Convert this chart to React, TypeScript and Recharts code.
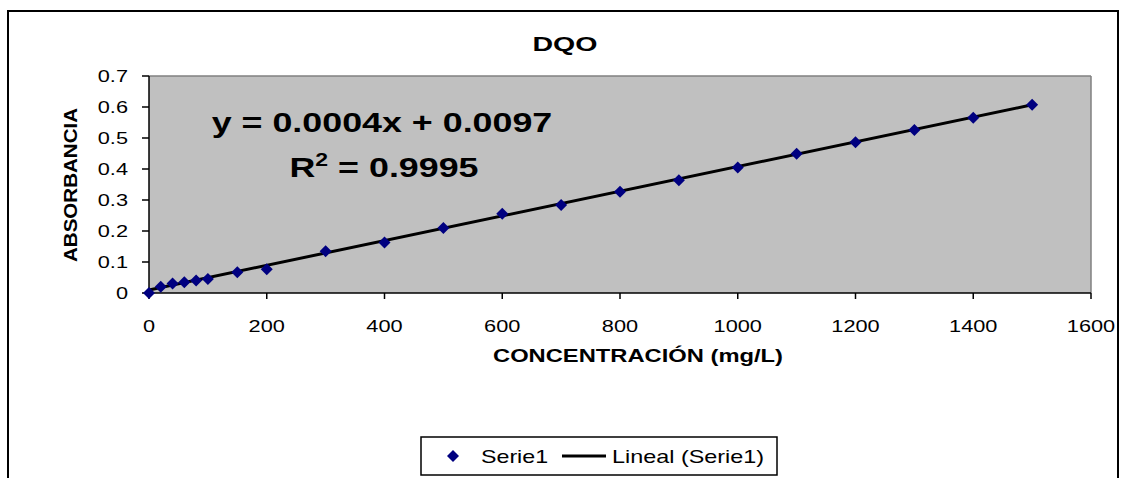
import React from 'react';
import {
  ComposedChart,
  Scatter,
  Line,
  XAxis,
  YAxis,
  CartesianGrid,
  ReferenceLine,
} from 'recharts';

// Serie1 (lectura del gráfico)
const concentracion = [0, 20, 40, 60, 80, 100, 150, 200, 300, 400, 500, 600, 700, 800, 900, 1000, 1100, 1200, 1300, 1400, 1500];
const absorbancia = [0, 0.02, 0.031, 0.035, 0.04, 0.045, 0.067, 0.077, 0.135, 0.163, 0.21, 0.256, 0.284, 0.327, 0.364, 0.405, 0.449, 0.486, 0.526, 0.565, 0.607];

// Lineal (Serie1): extremos de la recta de tendencia
const trendX = [0, 1500];
const trendY = [0.0097, 0.607];

const xTicks = [0, 200, 400, 600, 800, 1000, 1200, 1400, 1600];
const yTicks = [0, 0.1, 0.2, 0.3, 0.4, 0.5, 0.6, 0.7];

const FONT = '"Liberation Sans", Arial, sans-serif';
const NAVY = '#000080';

const serie1 = concentracion.map((x, i) => ({ x, y: absorbancia[i] }));
const lineal = trendX.map((x, i) => ({ x, y: trendY[i] }));

// texto ensanchado horizontalmente (el original está estirado)
function S({ x, y, sx = 1.28, anchor = 'middle', size = 17, bold = false, children }: any) {
  return (
    <text
      transform={`translate(${x},${y}) scale(${sx},1)`}
      textAnchor={anchor}
      fontFamily={FONT}
      fontSize={size}
      fontWeight={bold ? 'bold' : 'normal'}
      fill="#000"
    >
      {children}
    </text>
  );
}

const XTick = ({ x, y, payload }: any) => (
  <S x={x} y={y + 13}>{payload.value}</S>
);

const YTick = ({ x, y, payload }: any) => (
  <S x={x} y={y + 6} anchor="end">{payload.value}</S>
);

const Diamond = ({ cx, cy }: any) => {
  if (cx == null || cy == null) return null;
  return (
    <polygon
      points={`${cx},${cy - 6} ${cx + 6},${cy} ${cx},${cy + 6} ${cx - 6},${cy}`}
      fill={NAVY}
    />
  );
};

export default function App() {
  return (
    <div style={{ position: 'absolute', left: 0, top: 0, width: 1121, height: 478, background: '#fff', overflow: 'hidden' }}>
      <div style={{ position: 'absolute', left: 7, top: 10, width: 1108, height: 480, border: '2px solid #000' }} />
      <div style={{ position: 'absolute', left: 0, top: 0 }}>
        <ComposedChart
          width={1121}
          height={478}
          margin={{ top: 76, right: 30, bottom: 125, left: 0 }}
        >
          <CartesianGrid fill="#c0c0c0" horizontal={false} vertical={false} />
          <ReferenceLine y={0.7} stroke="#808080" strokeWidth={1.5} />
          <ReferenceLine x={1600} stroke="#808080" strokeWidth={1.5} />
          <XAxis
            type="number"
            dataKey="x"
            domain={[0, 1600]}
            ticks={xTicks}
            interval={0}
            height={60}
            tickSize={6}
            tickMargin={20}
            axisLine={{ stroke: '#000', strokeWidth: 1.5 }}
            tickLine={{ stroke: '#000', strokeWidth: 1.5 }}
            tick={<XTick />}
          />
          <YAxis
            type="number"
            dataKey="y"
            domain={[0, 0.7]}
            ticks={yTicks}
            interval={0}
            width={149}
            tickSize={7}
            tickMargin={14}
            axisLine={{ stroke: '#000', strokeWidth: 1.5 }}
            tickLine={{ stroke: '#000', strokeWidth: 1.5 }}
            tick={<YTick />}
          />
          <Scatter
            name="Serie1"
            data={serie1}
            dataKey="y"
            shape={<Diamond />}
            isAnimationActive={false}
          />
          <Line
            name="Lineal (Serie1)"
            data={lineal}
            dataKey="y"
            stroke="#000"
            strokeWidth={3}
            dot={false}
            activeDot={false}
            isAnimationActive={false}
          />

          {/* título y ecuación */}
          <text x={565} y={51} textAnchor="middle" fontFamily={FONT} fontSize={21} fontWeight="bold" textLength={65} lengthAdjust="spacingAndGlyphs">DQO</text>
          <S x={382} y={132} size={28} bold>y = 0.0004x + 0.0097</S>
          <S x={384} y={177} size={28} bold>
            R<tspan dy={-11} fontSize={18}>2</tspan>
            <tspan dy={11}> = 0.9995</tspan>
          </S>

          {/* títulos de ejes */}
          <text x={638} y={362} textAnchor="middle" fontFamily={FONT} fontSize={18} fontWeight="bold" textLength={290} lengthAdjust="spacingAndGlyphs">CONCENTRACIÓN (mg/L)</text>
          <text x={0} y={0} transform="translate(77,185) rotate(-90)" textAnchor="middle" fontFamily={FONT} fontSize={19} fontWeight="bold" textLength={154} lengthAdjust="spacingAndGlyphs">ABSORBANCIA</text>

          {/* leyenda */}
          <rect x={421} y={437} width={356} height={38} fill="#fff" stroke="#000" strokeWidth={1.5} />
          <polygon points="453,450 459,456 453,462 447,456" fill={NAVY} />
          <S x={481} y={463} anchor="start" size={18} sx={1.29}>Serie1</S>
          <line x1={562} y1={456} x2={606} y2={456} stroke="#000" strokeWidth={3} />
          <S x={612} y={463} anchor="start" size={18} sx={1.3}>Lineal (Serie1)</S>
        </ComposedChart>
      </div>
    </div>
  );
}
